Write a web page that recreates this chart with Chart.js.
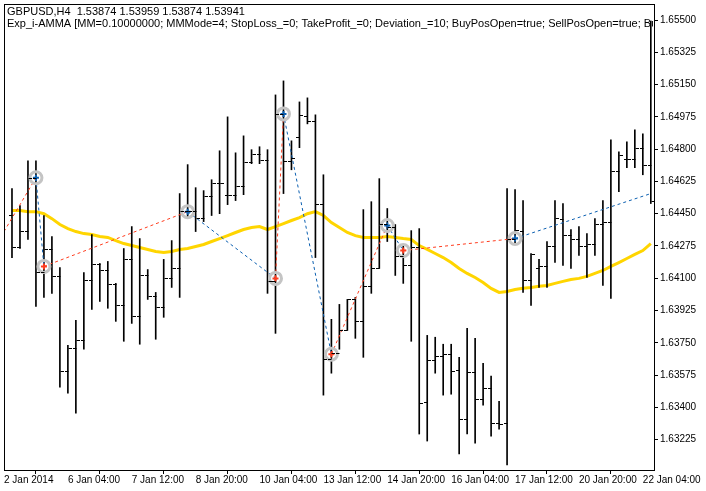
<!DOCTYPE html>
<html><head><meta charset="utf-8">
<script src="https://cdn.jsdelivr.net/npm/chart.js@4.4.1/dist/chart.umd.min.js"></script>
<style>html,body{margin:0;padding:0;background:#fff;overflow:hidden}#c{display:block;position:absolute;left:-5px;top:-5px}</style>
</head><body><canvas id="c" width="711" height="496"></canvas>
<script>
const titleLines = ["GBPUSD,H4  1.53874 1.53959 1.53874 1.53941",
 "Exp_i-AMMA [MM=0.10000000; MMMode=4; StopLoss_=0; TakeProfit_=0; Deviation_=10; BuyPosOpen=true; SellPosOpen=true; BuyPosClose=true; SellPosClose=true]"];
const xTickPos = [-1,7,15,23,31,39,47,55,63,71,79];
const xTickLabels = ["2 Jan 2014","6 Jan 04:00","7 Jan 12:00","8 Jan 20:00","10 Jan 04:00","13 Jan 12:00","14 Jan 20:00","16 Jan 04:00","17 Jan 12:00","20 Jan 20:00","22 Jan 04:00"];
const yTicks = [1.63225,1.63400,1.63575,1.63750,1.63925,1.64100,1.64275,1.64450,1.64625,1.64800,1.64975,1.65150,1.65325,1.65500];
const opens = [1.64445,1.64267,1.64358,1.64645,1.64131,1.64261,1.64110,1.63596,1.63720,1.63763,1.64088,1.64175,1.64142,1.64066,1.63953,1.64202,1.63893,1.64120,1.64001,1.63942,1.64099,1.64153,1.64467,1.64467,1.64429,1.64548,1.64618,1.64553,1.64553,1.64602,1.64732,1.64775,1.64743,1.64083,1.64991,1.64737,1.64867,1.64981,1.64954,1.64505,1.63661,1.63693,1.63817,1.63985,1.63866,1.64056,1.64158,1.64396,1.64380,1.64218,1.64169,1.64267,1.63428,1.63655,1.63677,1.63688,1.63601,1.63336,1.63590,1.63444,1.63504,1.63314,1.63314,1.64310,1.64358,1.64088,1.64158,1.64164,1.64272,1.64423,1.64337,1.64310,1.64272,1.64288,1.64396,1.64407,1.64683,1.64748,1.64748,1.64808,1.64716];
const highs = [1.64586,1.64494,1.64737,1.64737,1.64440,1.64326,1.64158,1.63736,1.63872,1.64131,1.64337,1.64180,1.64191,1.64072,1.64261,1.64380,1.64315,1.64147,1.64023,1.64202,1.64304,1.64559,1.64716,1.64591,1.64575,1.64634,1.64791,1.64975,1.64780,1.64872,1.64797,1.64813,1.64797,1.65094,1.65170,1.64845,1.65056,1.65078,1.64986,1.64661,1.63877,1.63958,1.63985,1.63996,1.64472,1.64515,1.64640,1.64478,1.64391,1.64283,1.64358,1.64369,1.63790,1.63780,1.63742,1.63742,1.63671,1.63828,1.63774,1.63639,1.63569,1.63433,1.64586,1.64580,1.64521,1.64234,1.64202,1.64299,1.64521,1.64505,1.64364,1.64380,1.64342,1.64423,1.64521,1.64851,1.64786,1.64840,1.64905,1.64883,1.65495];
const lows = [1.64212,1.64261,1.64310,1.63947,1.63996,1.64018,1.63509,1.63477,1.63368,1.63715,1.63931,1.63974,1.63937,1.63866,1.63758,1.63855,1.63742,1.63985,1.63769,1.63888,1.64050,1.63996,1.64423,1.64353,1.64407,1.64440,1.64450,1.64499,1.64521,1.64553,1.64721,1.64721,1.64018,1.63801,1.64559,1.64688,1.64808,1.64937,1.64212,1.63466,1.63585,1.63715,1.63817,1.63774,1.63671,1.64018,1.64153,1.64299,1.64115,1.64072,1.63758,1.63255,1.63217,1.63585,1.63466,1.63471,1.63147,1.63255,1.63206,1.63412,1.63244,1.63282,1.63087,1.64288,1.64023,1.63953,1.64050,1.64050,1.64185,1.64169,1.64153,1.64223,1.64104,1.64223,1.64061,1.63991,1.64569,1.64699,1.64699,1.64661,1.64505];
const closes = [1.64267,1.64358,1.64645,1.64131,1.64261,1.64110,1.63596,1.63720,1.63763,1.64088,1.64175,1.64142,1.64066,1.63953,1.64202,1.63893,1.64120,1.64001,1.63942,1.64099,1.64153,1.64467,1.64467,1.64429,1.64548,1.64618,1.64618,1.64553,1.64602,1.64732,1.64775,1.64743,1.64083,1.64991,1.64737,1.64753,1.64986,1.64954,1.64505,1.63661,1.63693,1.63817,1.63985,1.63866,1.64056,1.64158,1.64396,1.64380,1.64218,1.64169,1.64267,1.63423,1.63655,1.63677,1.63688,1.63596,1.63336,1.63590,1.63444,1.63504,1.63314,1.63309,1.64310,1.64364,1.64088,1.64229,1.64164,1.64272,1.64429,1.64337,1.64310,1.64272,1.64288,1.64396,1.64407,1.64683,1.64770,1.64748,1.64808,1.64716,1.64521];
const maValues = [1.64467,1.64467,1.64461,1.64461,1.64450,1.64423,1.64391,1.64369,1.64353,1.64342,1.64337,1.64326,1.64321,1.64304,1.64288,1.64277,1.64267,1.64256,1.64245,1.64239,1.64245,1.64256,1.64261,1.64272,1.64283,1.64299,1.64315,1.64331,1.64348,1.64364,1.64375,1.64380,1.64364,1.64380,1.64396,1.64413,1.64429,1.64450,1.64461,1.64440,1.64402,1.64375,1.64348,1.64331,1.64321,1.64321,1.64321,1.64326,1.64321,1.64315,1.64310,1.64277,1.64256,1.64234,1.64212,1.64185,1.64153,1.64126,1.64104,1.64077,1.64045,1.64023,1.64028,1.64039,1.64045,1.64050,1.64056,1.64061,1.64072,1.64083,1.64093,1.64099,1.64110,1.64126,1.64142,1.64164,1.64185,1.64207,1.64229,1.64250,1.64288];
const signalIdx = [-1,3,4,22,33,34,40,47,49,63,80];
const signalVals = [1.64353,1.64645,1.64164,1.64461,1.64099,1.64991,1.63688,1.64386,1.64250,1.64315,1.64559];
const markerBuy = [true,false,true,false,true,false,true,false,true];

const RED='#ff3c1e', BLUE='#0b5fb0';
const FONT='"Liberation Sans"';
const idx = opens.map((_,i)=>i);
const ohlcPlugin = {
  id:'ohlc',
  afterDatasetsDraw(chart){
    const {ctx,scales:{x,y}}=chart;
    ctx.save(); ctx.strokeStyle='#000'; ctx.lineWidth=1;
    ctx.beginPath();
    idx.forEach(i=>{
      const px=Math.round(x.getPixelForValue(i))+0.5;
      const po=Math.round(y.getPixelForValue(opens[i]))+0.5;
      const pc=Math.round(y.getPixelForValue(closes[i]))+0.5;
      ctx.moveTo(px-3.5,po); ctx.lineTo(px,po);
      ctx.moveTo(px,pc); ctx.lineTo(px+3.5,pc);
    });
    ctx.stroke(); ctx.restore();
  },
  afterDraw(chart){
    const {ctx,chartArea:a}=chart;
    ctx.save();
    ctx.strokeStyle='#000'; ctx.lineWidth=1;
    ctx.strokeRect(Math.round(a.left)+0.5,Math.round(a.top)+0.5,Math.round(a.right-a.left),Math.round(a.bottom-a.top));
    ctx.beginPath(); ctx.rect(a.left+1,a.top+1,a.right-a.left-2,a.bottom-a.top-2); ctx.clip();
    ctx.fillStyle='#000'; ctx.font='11px '+FONT; ctx.textBaseline='top';
    ctx.fillText(titleLines[0],a.left+3,a.top+2);
    ctx.fillText(titleLines[1],a.left+3,a.top+14);
    ctx.restore();
  }
};
new Chart(document.getElementById('c'),{
  data:{datasets:[
    {type:'line',data:idx.map(i=>({x:i,y:maValues[i]})),borderColor:'#ffd500',borderWidth:3,pointRadius:0,order:5},
    {type:'bar',data:idx.map(i=>({x:i,y:[lows[i],highs[i]]})),backgroundColor:'#000',borderWidth:0,barThickness:1,grouped:false,order:4},
    {type:'line',data:signalIdx.map((v,i)=>({x:v,y:signalVals[i]})),borderWidth:1,borderDash:[3,3],pointRadius:0,
      borderColor:RED,segment:{borderColor:c=>c.p0DataIndex%2===0?RED:BLUE},order:3},
    {type:'scatter',data:signalIdx.slice(1,10).map((v,i)=>({x:v,y:signalVals[i+1]})),pointStyle:'circle',pointRadius:6,
      borderColor:'#c4c4c4',borderWidth:3,backgroundColor:'rgba(0,0,0,0)',order:2},
    {type:'scatter',data:signalIdx.slice(1,10).map((v,i)=>({x:v,y:signalVals[i+1]})),pointStyle:'cross',pointRadius:3,
      borderColor:markerBuy.map(b=>b?BLUE:RED),borderWidth:2,order:1}
  ]},
  options:{
    responsive:false,animation:false,events:[],
    layout:{padding:0},
    plugins:{legend:{display:false},tooltip:{enabled:false}},
    scales:{
      x:{type:'linear',min:-1,max:80.4,offset:false,
        afterBuildTicks(s){s.ticks=xTickPos.map(v=>({value:v}));},
        afterFit(s){s.height=21;},
        ticks:{autoSkip:false,maxRotation:0,align:'start',padding:0,color:'#000',font:{family:FONT,size:10},
          callback:(v)=>xTickLabels[xTickPos.indexOf(v)]},
        grid:{drawOnChartArea:false,tickLength:4,color:'#000'},border:{color:'#000'}},
      y:{position:'right',min:1.6306,max:1.65587,
        afterBuildTicks(s){s.ticks=yTicks.map(v=>({value:v}));},
        afterFit(s){s.width=52;},
        ticks:{color:'#000',padding:2,font:{family:FONT,size:10},callback:v=>v.toFixed(5)},
        grid:{drawOnChartArea:false,tickLength:4,color:'#000'},border:{color:'#000'}}
    }
  },
  plugins:[ohlcPlugin]
});
</script></body></html>
